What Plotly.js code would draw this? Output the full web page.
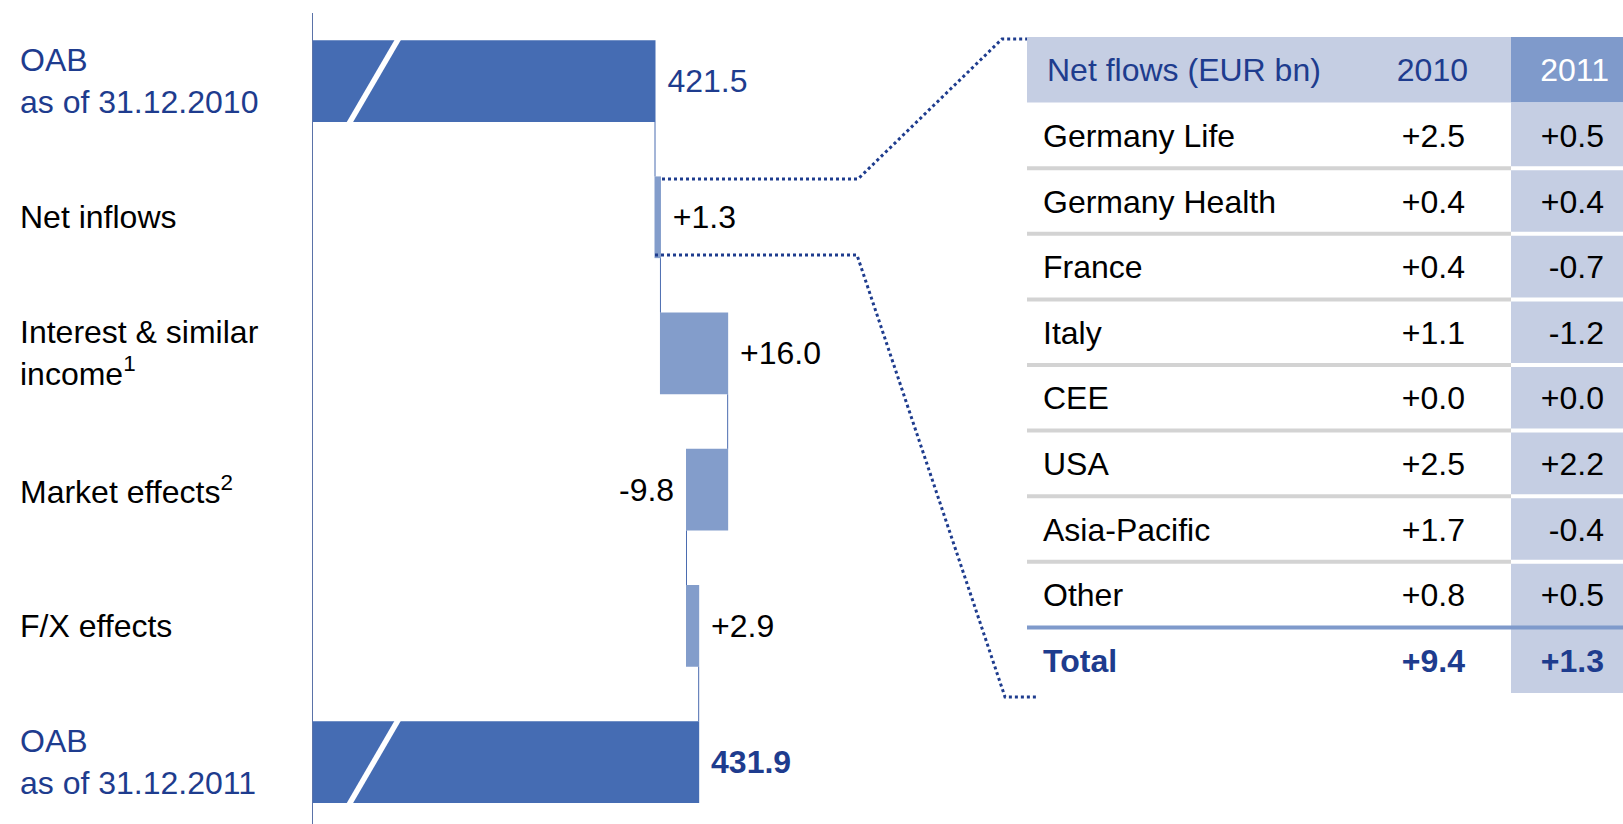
<!DOCTYPE html>
<html><head><meta charset="utf-8">
<script src="https://cdn.plot.ly/plotly-3.0.1.min.js"></script>
<style>html,body{margin:0;padding:0;background:#fff;}#chart{width:1623px;height:824px;}</style>
</head><body><div id="chart"></div>
<script>
// ---------------- data ----------------
const steps = ['OAB as of 31.12.2010', 'Net inflows', 'Interest & similar income', 'Market effects', 'F/X effects', 'OAB as of 31.12.2011'];
const stepLabels = ['OAB<br>as of 31.12.2010', 'Net inflows', 'Interest & similar<br>income<sup>1</sup>', 'Market effects<sup>2</sup>', 'F/X effects', 'OAB<br>as of 31.12.2011'];
const stepMeasures = ['absolute', 'relative', 'relative', 'relative', 'relative', 'total'];
const stepValues = [421.5, 1.3, 16.0, -9.8, 2.9, 431.9];

const tableTitle = 'Net flows (EUR bn)';
const yearLabels = ['2010', '2011'];
const regions = ['Germany Life', 'Germany Health', 'France', 'Italy', 'CEE', 'USA', 'Asia-Pacific', 'Other'];
const flows2010 = [2.5, 0.4, 0.4, 1.1, 0.0, 2.5, 1.7, 0.8];
const flows2011 = [0.5, 0.4, -0.7, -1.2, 0.0, 2.2, -0.4, 0.5];
const totalLabel = 'Total';
const total2010 = 9.4;
const total2011 = 1.3;

// ---------------- styles ----------------
const W = 1623, H = 824;
const FONT = 'Liberation Sans, Arial, Helvetica, sans-serif';
const FS = 32;
const DARK = '#1E3C8E';
const TOTAL_BAR = '#456CB3';
const STEP_BAR = '#839DCB';
const HEAD_LIGHT = '#C5CEE3';
const HEAD_DARK = '#7F9ACB';
const SEP_GRAY = '#D3D3D3';
const NB = '\u00A0';

const px = v => v / W;
const py = v => 1 - v / H;
const fmt = v => (v >= 0 ? '+' : '-') + Math.abs(v).toFixed(1);

// waterfall value scale (px per unit) and placement
const axisLeftPx = 313, axisRightPx = 980, refPx = 655, pxPerUnit = 4.2;
const xr0 = stepValues[0] - (refPx - axisLeftPx) / pxPerUnit;
const xr1 = stepValues[0] + (axisRightPx - refPx) / pxPerUnit;

const isTotal = stepMeasures.map(m => m !== 'relative');
const wfText = stepValues.map((v, i) => {
  if (!isTotal[i]) return v >= 0 ? NB + fmt(v) : fmt(v) + NB;
  const t = v.toFixed(1);
  return NB + (i === stepValues.length - 1 ? '<b>' + t + '</b>' : t);
});
const wfTextColors = isTotal.map(t => t ? DARK : '#000000');

const waterfall = {
  type: 'waterfall', orientation: 'h',
  y: steps, x: stepValues, measure: stepMeasures,
  width: 0.6,
  text: wfText, textposition: 'outside', constraintext: 'none',
  textfont: {family: FONT, size: FS, color: wfTextColors},
  outsidetextfont: {family: FONT, size: FS, color: wfTextColors},
  cliponaxis: false,
  totals: {marker: {color: TOTAL_BAR, line: {width: 0}}},
  increasing: {marker: {color: STEP_BAR, line: {width: 0}}},
  decreasing: {marker: {color: STEP_BAR, line: {width: 0}}},
  connector: {mode: 'between', line: {color: '#4B6CB0', width: 1}},
  hoverinfo: 'skip', showlegend: false,
  xaxis: 'x', yaxis: 'y'
};

// ---------------- table ----------------
const tableRows = [tableTitle].concat(regions, [totalLabel]);
const nR = tableRows.length;
const tblLeftPx = 1027, tblTopPx = 37, tblBottomPx = 693, textDrop = 3.5;
const col3Left = 484, tblWidth = W - tblLeftPx;   // in x2 units (= px within table)
const labelX = 16, c2010X = 438, c2011X = 577;

const headerTrace = {
  type: 'scatter', mode: 'text', xaxis: 'x2', yaxis: 'y3',
  x: [labelX + 4, c2010X + 3, c2011X + 5],
  y: [tableTitle, tableTitle, tableTitle],
  text: [tableTitle, yearLabels[0], yearLabels[1]],
  textposition: ['middle right', 'middle left', 'middle left'],
  textfont: {family: FONT, size: FS, color: [DARK, DARK, '#FFFFFF']},
  hoverinfo: 'skip', showlegend: false, cliponaxis: false
};
const bodyRows = regions.concat([totalLabel]);
const bodyColors = regions.map(() => '#000000').concat([DARK]);
const labelTrace = {
  type: 'scatter', mode: 'text', xaxis: 'x2', yaxis: 'y3',
  x: bodyRows.map(() => labelX), y: bodyRows,
  text: regions.concat(['<b>' + totalLabel + '</b>']),
  textposition: 'middle right',
  textfont: {family: FONT, size: FS, color: bodyColors},
  hoverinfo: 'skip', showlegend: false, cliponaxis: false
};
const col2010Trace = {
  type: 'scatter', mode: 'text', xaxis: 'x2', yaxis: 'y3',
  x: bodyRows.map(() => c2010X), y: bodyRows,
  text: flows2010.map(fmt).concat(['<b>' + fmt(total2010) + '</b>']),
  textposition: 'middle left',
  textfont: {family: FONT, size: FS, color: bodyColors},
  hoverinfo: 'skip', showlegend: false, cliponaxis: false
};
const col2011Trace = {
  type: 'scatter', mode: 'text', xaxis: 'x2', yaxis: 'y3',
  x: bodyRows.map(() => c2011X), y: bodyRows,
  text: flows2011.map(fmt).concat(['<b>' + fmt(total2011) + '</b>']),
  textposition: 'middle left',
  textfont: {family: FONT, size: FS, color: bodyColors},
  hoverinfo: 'skip', showlegend: false, cliponaxis: false
};

// ---------------- shapes ----------------
const shapes = [];
// table backgrounds
shapes.push({type: 'rect', xref: 'x2', yref: 'y2', x0: 0, x1: col3Left, y0: -0.5, y1: 0.5, fillcolor: HEAD_LIGHT, line: {width: 0}, layer: 'below'});
shapes.push({type: 'rect', xref: 'x2', yref: 'y2', x0: col3Left, x1: tblWidth, y0: -0.5, y1: 0.5, fillcolor: HEAD_DARK, line: {width: 0}, layer: 'below'});
shapes.push({type: 'rect', xref: 'x2', yref: 'y2', x0: col3Left, x1: tblWidth, y0: 0.5, y1: nR - 0.5, fillcolor: HEAD_LIGHT, line: {width: 0}, layer: 'below'});
// row separators
for (let i = 1; i < regions.length; i++) {
  shapes.push({type: 'line', xref: 'x2', yref: 'y2', x0: 0, x1: col3Left, y0: i + 0.5, y1: i + 0.5, line: {color: SEP_GRAY, width: 4}, layer: 'below'});
  shapes.push({type: 'line', xref: 'x2', yref: 'y2', x0: col3Left, x1: tblWidth, y0: i + 0.5, y1: i + 0.5, line: {color: '#FFFFFF', width: 4}, layer: 'below'});
}
shapes.push({type: 'line', xref: 'x2', yref: 'y2', x0: 0, x1: tblWidth, y0: regions.length + 0.5, y1: regions.length + 0.5, line: {color: HEAD_DARK, width: 4}, layer: 'below'});

// axis-break slashes on the two total bars
const slashTop = stepValues[0] - (refPx - 397.5) / pxPerUnit;
const slashBot = stepValues[0] - (refPx - 350) / pxPerUnit;
const slashMid = (slashTop + slashBot) / 2, slashSlope = (slashBot - slashTop) / 0.6;
[0, steps.length - 1].forEach(i => {
  shapes.push({type: 'line', xref: 'x', yref: 'y',
    x0: slashMid - 0.32 * slashSlope, y0: i - 0.32, x1: slashMid + 0.32 * slashSlope, y1: i + 0.32,
    line: {color: '#FFFFFF', width: 5.5}});
});

// dotted call-out lines linking "Net inflows" to the table
shapes.push({type: 'path', xref: 'paper', yref: 'paper',
  path: `M ${px(662)} ${py(179)} L ${px(858)} ${py(179)} L ${px(1002)} ${py(39)} L ${px(1027)} ${py(39)}`,
  line: {color: DARK, width: 3, dash: 'dot'}});
shapes.push({type: 'path', xref: 'paper', yref: 'paper',
  path: `M ${px(655)} ${py(255)} L ${px(857)} ${py(255)} L ${px(1005)} ${py(697)} L ${px(1037)} ${py(697)}`,
  line: {color: DARK, width: 3, dash: 'dot'}});

// ---------------- category labels ----------------
const annotations = steps.map((s, i) => ({
  xref: 'paper', yref: 'y', x: px(18), y: s, xanchor: 'left', yanchor: 'middle',
  align: 'left', showarrow: false, text: stepLabels[i],
  font: {family: FONT, size: FS, color: isTotal[i] ? DARK : '#000000'}
}));

const layout = {
  width: W, height: H, autosize: false,
  margin: {l: 0, r: 0, t: 0, b: 0, pad: 0},
  paper_bgcolor: '#FFFFFF', plot_bgcolor: 'rgba(0,0,0,0)',
  font: {family: FONT, size: FS, color: '#000000'},
  showlegend: false,
  xaxis: {domain: [px(axisLeftPx), px(axisRightPx)], range: [xr0, xr1], visible: false, fixedrange: true},
  yaxis: {domain: [0, py(13)], type: 'category', categoryorder: 'array', categoryarray: steps,
    range: [5.455, -0.5], autorange: false, showticklabels: false, ticks: '', showgrid: false,
    zeroline: false, showline: true, linecolor: '#5A72A8', linewidth: 1, fixedrange: true},
  xaxis2: {domain: [px(tblLeftPx), 1], range: [0, tblWidth], visible: false, anchor: 'y2', fixedrange: true},
  yaxis2: {domain: [py(tblBottomPx), py(tblTopPx)], type: 'category', categoryorder: 'array', categoryarray: tableRows,
    range: [nR - 0.5, -0.5], autorange: false, visible: false, anchor: 'x2', fixedrange: true},
  yaxis3: {domain: [py(tblBottomPx + textDrop), py(tblTopPx + textDrop)], type: 'category', categoryorder: 'array', categoryarray: tableRows,
    range: [nR - 0.5, -0.5], autorange: false, visible: false, anchor: 'x2', fixedrange: true},
  shapes: shapes,
  annotations: annotations
};

Plotly.newPlot('chart', [waterfall, headerTrace, labelTrace, col2010Trace, col2011Trace], layout,
  {displayModeBar: false, staticPlot: true});
</script>
</body></html>
